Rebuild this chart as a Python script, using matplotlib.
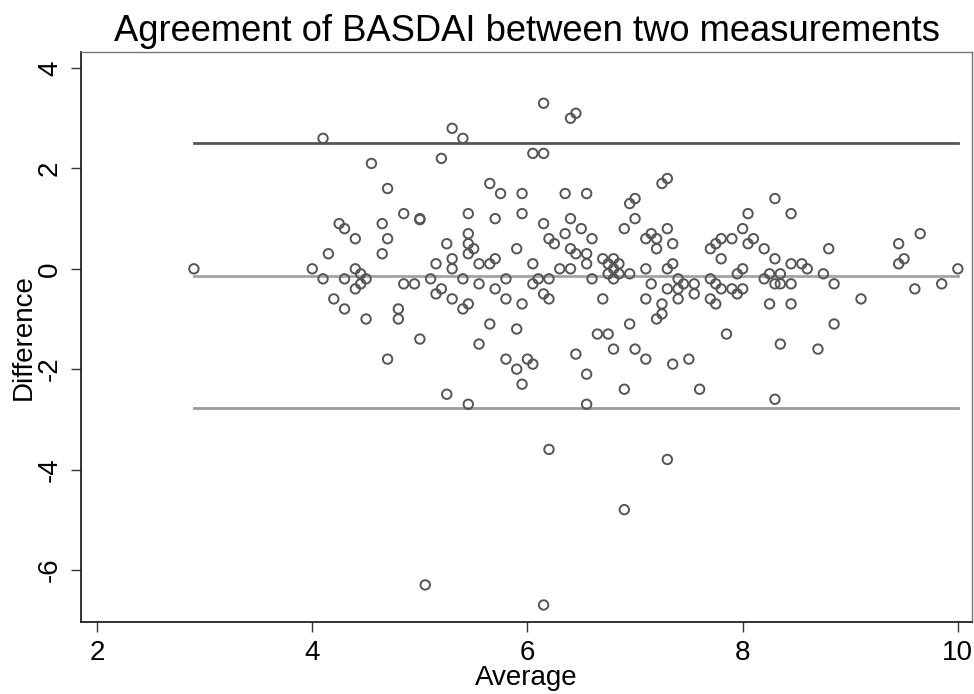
import matplotlib
matplotlib.use("Agg")
import matplotlib.pyplot as plt

plt.rcParams['font.family'] = ['Liberation Sans', 'DejaVu Sans']
plt.rcParams['axes.unicode_minus'] = False

# Average of the two measurements
average = [
    2.9, 4.0, 4.1, 4.55, 4.7, 4.25, 4.3, 4.65, 4.4, 4.7, 4.15, 4.65, 4.4, 4.45, 4.1,
    4.3, 4.5, 4.45, 4.4, 4.2, 4.3, 4.5, 4.7, 4.8, 4.8,
    6.15, 6.45, 6.4, 5.3, 5.4, 5.2, 6.05, 6.15, 5.65, 5.75, 5.95, 6.35, 6.55, 4.85,
    5.0, 5.0, 5.45, 5.7, 5.95, 6.15, 6.4, 6.5, 5.45, 5.25, 5.45, 5.5, 5.45, 5.3, 5.3,
    5.15, 5.55, 5.65, 5.7, 5.9, 6.05, 6.2, 6.25, 6.35, 6.4, 6.45, 6.55, 6.55, 6.3, 6.4,
    4.85, 4.95, 5.1, 5.2, 5.15, 5.3, 5.4, 5.4, 5.45, 5.55, 5.7, 5.8, 5.8, 5.95, 6.05,
    6.1, 6.2, 6.15, 6.2, 5.65, 5.9, 5.0, 5.55, 5.8, 6.0, 6.05, 5.9, 5.95, 6.45, 6.55,
    5.25, 5.45, 6.55,
    7.25, 7.3, 6.95, 7.0, 8.3, 6.6, 6.9, 7.0, 7.1, 7.15, 7.2, 7.2, 7.3, 7.35, 8.05,
    8.0, 7.7, 7.75, 7.8, 7.9, 8.05, 8.1, 8.2, 8.3, 7.8, 6.7, 6.8, 6.75, 6.85, 6.8,
    6.75, 6.85, 6.8, 6.95, 6.6, 7.1, 7.35, 7.3, 7.4, 7.45, 7.15, 7.3, 7.4, 7.4, 7.55,
    7.55, 7.1, 7.25, 7.25, 7.2, 6.7, 7.7, 7.75, 7.8, 7.9, 7.95, 8.0, 7.95, 8.0, 7.7,
    7.75, 8.2, 8.25, 8.3, 8.25, 6.95, 6.65, 6.75, 7.85, 6.8, 7.0, 7.1, 7.35, 7.5,
    8.35, 6.9, 7.6, 8.3,
    8.45, 8.8, 8.45, 8.55, 8.6, 8.35, 8.75, 8.35, 8.45, 8.85, 8.45, 9.1, 8.85, 8.7,
    9.45, 9.65, 9.5, 9.45, 10.0, 9.6, 9.85,
    5.05, 6.15, 6.2, 7.3, 6.9,
]

# Difference between the two measurements
difference = [
    0.0, 0.0, 2.6, 2.1, 1.6, 0.9, 0.8, 0.9, 0.6, 0.6, 0.3, 0.3, 0.0, -0.1, -0.2,
    -0.2, -0.2, -0.3, -0.4, -0.6, -0.8, -1.0, -1.8, -0.8, -1.0,
    3.3, 3.1, 3.0, 2.8, 2.6, 2.2, 2.3, 2.3, 1.7, 1.5, 1.5, 1.5, 1.5, 1.1,
    1.0, 0.98, 1.1, 1.0, 1.1, 0.9, 1.0, 0.8, 0.7, 0.5, 0.5, 0.4, 0.3, 0.2, 0.0,
    0.1, 0.1, 0.1, 0.2, 0.4, 0.1, 0.6, 0.5, 0.7, 0.4, 0.3, 0.3, 0.1, 0.0, 0.0,
    -0.3, -0.3, -0.2, -0.4, -0.5, -0.6, -0.2, -0.8, -0.7, -0.3, -0.4, -0.2, -0.6, -0.7, -0.3,
    -0.2, -0.2, -0.5, -0.6, -1.1, -1.2, -1.4, -1.5, -1.8, -1.8, -1.9, -2.0, -2.3, -1.7, -2.1,
    -2.5, -2.7, -2.7,
    1.7, 1.8, 1.3, 1.4, 1.4, 0.6, 0.8, 1.0, 0.6, 0.7, 0.6, 0.4, 0.8, 0.5, 1.1,
    0.8, 0.4, 0.5, 0.6, 0.6, 0.5, 0.6, 0.4, 0.2, 0.2, 0.2, 0.2, 0.1, 0.1, 0.0,
    -0.1, -0.1, -0.2, -0.1, -0.2, 0.0, 0.1, 0.0, -0.2, -0.3, -0.3, -0.4, -0.4, -0.6, -0.3,
    -0.5, -0.6, -0.7, -0.9, -1.0, -0.6, -0.2, -0.3, -0.4, -0.4, -0.5, -0.4, -0.1, 0.0, -0.6,
    -0.7, -0.2, -0.1, -0.3, -0.7, -1.1, -1.3, -1.3, -1.3, -1.6, -1.6, -1.8, -1.9, -1.8,
    -1.5, -2.4, -2.4, -2.6,
    1.1, 0.4, 0.1, 0.1, 0.0, -0.1, -0.1, -0.3, -0.3, -0.3, -0.7, -0.6, -1.1, -1.6,
    0.5, 0.7, 0.2, 0.1, 0.0, -0.4, -0.3,
    -6.3, -6.7, -3.6, -3.8, -4.8,
]

mean_diff = -0.14
upper_loa = 2.5
lower_loa = -2.78

x_ticks = [2, 4, 6, 8, 10]
y_ticks = [-6, -4, -2, 0, 2, 4]

fig = plt.figure(figsize=(9.74, 6.94), dpi=100)
ax = fig.add_axes([0.0832, 0.1037, 0.9148, 0.8213])

x_lo, x_hi = min(average), max(average)
ax.plot([x_lo, x_hi], [upper_loa, upper_loa], color='#555555', lw=2.0, zorder=1)
ax.plot([x_lo, x_hi], [mean_diff, mean_diff], color='#a3a3a3', lw=2.0, zorder=1)
ax.plot([x_lo, x_hi], [lower_loa, lower_loa], color='#9a9a9a', lw=2.0, zorder=1)

ax.scatter(average, difference, s=46, facecolors='none', edgecolors='#555555',
           linewidths=1.4, zorder=3)

ax.set_xlim(1.851, 10.132)
ax.set_ylim(-7.04, 4.32)
ax.set_xticks(x_ticks)
ax.set_yticks(y_ticks)
ax.tick_params(axis='both', direction='out', length=7, width=1.0, color='#333333',
               labelsize=20, pad=6)
for lab in ax.get_yticklabels():
    lab.set_rotation(90)
    lab.set_va('center')

for side in ['left', 'bottom']:
    ax.spines[side].set_color('#222222')
    ax.spines[side].set_linewidth(1.3)
for side in ['top', 'right']:
    ax.spines[side].set_color('#777777')
    ax.spines[side].set_linewidth(1.0)

ax.set_title('Agreement of BASDAI between two measurements', fontsize=26.2, pad=8)
ax.set_xlabel('Average', fontsize=20, labelpad=-1)
ax.set_ylabel('Difference', fontsize=20, labelpad=0)

fig.savefig('out.png', dpi=100, facecolor='white')
